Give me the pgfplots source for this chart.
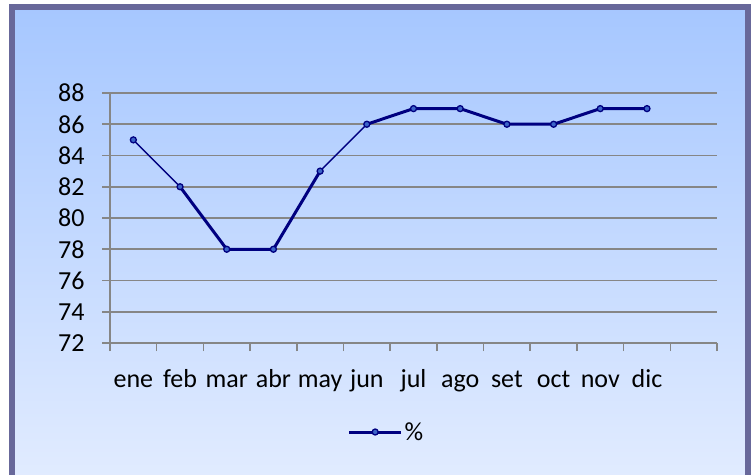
\documentclass[border=0pt]{standalone}
\usepackage{pgfplots}
\pgfplotsset{compat=1.18}
\usepackage{fontspec}
\setmainfont{Carlito}
\definecolor{navy}{RGB}{0,0,128}
\definecolor{markfill}{RGB}{60,100,200}
\definecolor{gridgray}{RGB}{134,134,134}
\definecolor{framec}{RGB}{104,104,154}
\definecolor{bgtop}{RGB}{166,199,255}
\definecolor{bgbot}{RGB}{226,236,255}
\begin{document}
\begin{tikzpicture}[x=1pt,y=1pt]
\useasboundingbox (0,0) rectangle (751,474);
\shade[top color=bgtop,bottom color=bgbot] (12,-10) rectangle (748,467);
\draw[line width=6pt, color=framec] (12,-10) -- (12,467) -- (748,467) -- (748,-10);
\begin{axis}[
  at={(110pt,131pt)}, anchor=south west,
  scale only axis, width=607pt, height=250pt,
  xmin=0, xmax=13, ymin=72, ymax=88,
  ytick={72,74,...,88},
  xtick={0.5,1.5,...,11.5},
  xticklabels={ene,feb,mar,abr,may,jun,jul,ago,set,oct,nov,dic},
  minor xtick={0,1,...,13},
  axis x line=bottom, axis y line=left,
  axis line style={-, draw=gridgray, line width=1.6pt},
  ymajorgrids,
  major grid style={draw=gridgray, line width=1.6pt},
  tick align=outside,
  major x tick style={draw=none},
  major y tick style={draw=gridgray, line width=1.6pt},
  minor x tick style={draw=gridgray, line width=1.6pt},
  major tick length=8pt, minor tick length=8pt,
  tick label style={font=\fontsize{26}{28}\selectfont, text=black},
  /pgf/number format/assume math mode=true,
  yticklabel style={xshift=-14pt},
  xticklabel style={anchor=base, yshift=-36pt},
  legend style={at={(0.4555,-0.356)}, anchor=center, draw=none, fill=none,
    font=\fontsize{26}{28}\selectfont},
  legend image code/.code={\draw[#1,mark repeat=2,mark phase=2] plot coordinates {(0pt,0pt) (26pt,0pt) (52pt,0pt)};},
  clip=false,
]
% thick segments
\addplot[navy, line width=3pt, forget plot] coordinates {(1.5,82) (2.5,78) (3.5,78) (4.5,83)};
\addplot[navy, line width=3pt, forget plot] coordinates {(5.5,86) (6.5,87) (7.5,87) (8.5,86) (9.5,86) (10.5,87) (11.5,87)};
% thin segments
\addplot[navy, line width=1.4pt, forget plot] coordinates {(0.5,85) (1.5,82)};
\addplot[navy, line width=1.4pt, forget plot] coordinates {(4.5,83) (5.5,86)};
% markers
\addplot[only marks, mark=*, mark size=3pt, mark options={fill=markfill, draw=navy, line width=1.3pt}, forget plot]
  coordinates {(0.5,85) (1.5,82) (2.5,78) (3.5,78) (4.5,83) (5.5,86) (6.5,87) (7.5,87) (8.5,86) (9.5,86) (10.5,87) (11.5,87)};
\addlegendimage{navy, line width=3pt, mark=*, mark size=3pt, mark options={fill=markfill, draw=navy, line width=1.3pt}}
\addlegendentry{\%}
\end{axis}
\end{tikzpicture}
\end{document}
